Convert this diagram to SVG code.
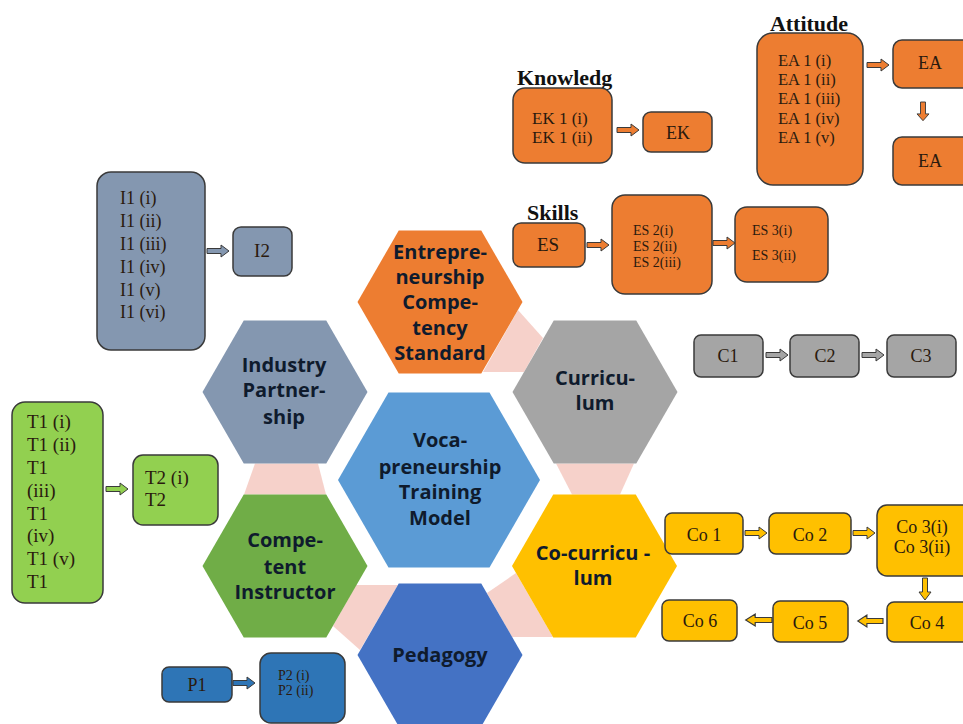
<svg xmlns="http://www.w3.org/2000/svg" width="963" height="724" viewBox="0 0 963 724">
<defs>
<style>
.hex{stroke:none}
.ht{font-family:"Open Sans","Liberation Sans",sans-serif;font-weight:bold;font-size:20px;fill:#0f1b2d;text-anchor:middle}
.bx{stroke:#3a3a3a;stroke-width:1.5}
.t{font-family:"Liberation Serif","Times New Roman",serif;fill:#2a1a0e}
.ttl{font-family:"Liberation Serif","Times New Roman",serif;font-weight:bold;font-size:22px;fill:#111}
.mid{text-anchor:middle}
.link{fill:#f4c9c1;opacity:0.85}
.or{fill:#ED7D31}
.gy{fill:#8497B0}
.gr{fill:#92D050}
.yl{fill:#FFC000}
.bl{fill:#2E75B6}
.gc{fill:#A5A5A5}
</style>
<path id="arr" d="M0,-2.5 H14 V-6 L22,0 L14,6 V2.5 H0 Z" stroke="#3a3a3a" stroke-width="1"/>
</defs>
<rect width="963" height="724" fill="#ffffff"/>

<g id="links">
<polygon class="link" points="518,310 543,338 524,372 483,372"/>
<polygon class="link" points="255,463.5 318,463.5 326,494.5 244,494.5"/>
<polygon class="link" points="556,463.5 634,463.5 620,494.5 572,494.5"/>
<polygon class="link" points="356,585 398,585 360,650 333,626"/>
<polygon class="link" points="516,573 487,593 512,637 553,637"/>
</g>

<g id="hex-entrepreneurship">
<polygon class="hex" fill="#ED7D31" points="357.5,302 398.75,230.5 481.25,230.5 522.5,302 481.25,373.5 398.75,373.5"/>
<text class="ht" x="440" y="259">Entrepre-</text>
<text class="ht" x="440" y="284">neurship</text>
<text class="ht" x="440" y="309">Compe-</text>
<text class="ht" x="440" y="335">tency</text>
<text class="ht" x="440" y="360">Standard</text>
</g>
<g id="hex-industry">
<polygon class="hex" fill="#8497B0" points="202.5,392 243.75,320.5 326.25,320.5 367.5,392 326.25,463.5 243.75,463.5"/>
<text class="ht" x="284" y="372">Industry</text>
<text class="ht" x="284" y="397">Partner-</text>
<text class="ht" x="284" y="424">ship</text>
</g>
<g id="hex-curriculum">
<polygon class="hex" fill="#A5A5A5" points="512.5,392 553.75,320.5 636.25,320.5 677.5,392 636.25,463.5 553.75,463.5"/>
<text class="ht" x="595" y="385">Curricu-</text>
<text class="ht" x="595" y="410">lum</text>
</g>
<g id="hex-center">
<polygon class="hex" fill="#5B9BD5" points="338,480 388.5,392.5 489.5,392.5 540,480 489.5,567.5 388.5,567.5"/>
<text class="ht" x="440" y="447">Voca-</text>
<text class="ht" x="440" y="474">preneurship</text>
<text class="ht" x="440" y="499">Training</text>
<text class="ht" x="440" y="525">Model</text>
</g>
<g id="hex-competent">
<polygon class="hex" fill="#70AD47" points="202.5,566 243.75,494.5 326.25,494.5 367.5,566 326.25,637.5 243.75,637.5"/>
<text class="ht" x="285" y="547">Compe-</text>
<text class="ht" x="285" y="574">tent</text>
<text class="ht" x="285" y="599">Instructor</text>
</g>
<g id="hex-cocurriculum">
<polygon class="hex" fill="#FFC000" points="512,566 553.25,494.5 635.75,494.5 677,566 635.75,637.5 553.25,637.5"/>
<text class="ht" x="593" y="560">Co-curricu -</text>
<text class="ht" x="593" y="585">lum</text>
</g>
<g id="hex-pedagogy">
<polygon class="hex" fill="#4472C4" points="357.5,655 398.75,583.5 481.25,583.5 522.5,655 481.25,726.5 398.75,726.5"/>
<text class="ht" x="440" y="662">Pedagogy</text>
</g>

<g id="attitude">
<text class="ttl mid" x="809" y="31">Attitude</text>
<rect class="bx or" x="757" y="33" width="106" height="152" rx="16"/>
<text class="t" font-size="16.5" x="778" y="66">EA 1 (i)</text>
<text class="t" font-size="16.5" x="778" y="85">EA 1 (ii)</text>
<text class="t" font-size="16.5" x="778" y="104">EA 1 (iii)</text>
<text class="t" font-size="16.5" x="778" y="124">EA 1 (iv)</text>
<text class="t" font-size="16.5" x="778" y="143">EA 1 (v)</text>
</g>
<g id="ea1"><rect class="bx or" x="893" y="40" width="85" height="48" rx="9"/><text class="t mid" font-size="18" x="930" y="69">EA</text></g>
<g id="ea2"><rect class="bx or" x="893" y="137" width="85" height="48" rx="9"/><text class="t mid" font-size="18" x="930" y="167">EA</text></g>

<g id="knowledge">
<text class="ttl" x="517" y="85">Knowledg</text>
<rect class="bx or" x="513" y="88" width="99" height="75" rx="12"/>
<text class="t" font-size="17" x="532" y="124">EK 1 (i)</text>
<text class="t" font-size="17" x="532" y="143">EK 1 (ii)</text>
</g>
<g id="ek"><rect class="bx or" x="643" y="112" width="69" height="40" rx="8"/><text class="t mid" font-size="18" x="678" y="139">EK</text></g>

<g id="skills">
<text class="ttl" x="527" y="220">Skills</text>
<rect class="bx or" x="513" y="223" width="72" height="44" rx="8"/>
<text class="t mid" font-size="19" x="548" y="251">ES</text>
</g>
<g id="es2"><rect class="bx or" x="612" y="195" width="100" height="99" rx="13"/>
<text class="t" font-size="14" x="633" y="235">ES 2(i)</text>
<text class="t" font-size="14" x="633" y="251">ES 2(ii)</text>
<text class="t" font-size="14" x="633" y="267">ES 2(iii)</text></g>
<g id="es3"><rect class="bx or" x="735" y="207" width="93" height="75" rx="12"/>
<text class="t" font-size="14" x="752" y="235">ES 3(i)</text>
<text class="t" font-size="14" x="752" y="260">ES 3(ii)</text></g>

<g id="i1"><rect class="bx gy" x="97" y="172" width="108" height="178" rx="14"/>
<text class="t" font-size="18" fill="#1e2a3a" x="120" y="204">I1 (i)</text>
<text class="t" font-size="18" x="120" y="227">I1 (ii)</text>
<text class="t" font-size="18" x="120" y="250">I1 (iii)</text>
<text class="t" font-size="18" x="120" y="273">I1 (iv)</text>
<text class="t" font-size="18" x="120" y="296">I1 (v)</text>
<text class="t" font-size="18" x="120" y="318">I1 (vi)</text></g>
<g id="i2"><rect class="bx gy" x="233" y="227" width="59" height="49" rx="8"/><text class="t mid" font-size="19" x="262" y="257">I2</text></g>

<g id="t1"><rect class="bx gr" x="12" y="402" width="91" height="201" rx="13"/>
<text class="t" font-size="19" x="27" y="428">T1 (i)</text>
<text class="t" font-size="19" x="27" y="451">T1 (ii)</text>
<text class="t" font-size="19" x="27" y="474">T1</text>
<text class="t" font-size="19" x="27" y="497">(iii)</text>
<text class="t" font-size="19" x="27" y="520">T1</text>
<text class="t" font-size="19" x="27" y="542">(iv)</text>
<text class="t" font-size="19" x="27" y="565">T1 (v)</text>
<text class="t" font-size="19" x="27" y="588">T1</text></g>
<g id="t2"><rect class="bx gr" x="133" y="455" width="85" height="70" rx="10"/>
<text class="t" font-size="19" x="145" y="484">T2 (i)</text>
<text class="t" font-size="19" x="145" y="506">T2</text></g>

<g id="c1"><rect class="bx gc" x="694" y="335" width="69" height="42" rx="7"/><text class="t mid" font-size="18" x="728" y="362">C1</text></g>
<g id="c2"><rect class="bx gc" x="790" y="335" width="69" height="42" rx="7"/><text class="t mid" font-size="18" x="825" y="362">C2</text></g>
<g id="c3"><rect class="bx gc" x="887" y="335" width="69" height="42" rx="7"/><text class="t mid" font-size="18" x="921" y="362">C3</text></g>

<g id="co1"><rect class="bx yl" x="665" y="513" width="78" height="41" rx="7"/><text class="t mid" font-size="18" x="704" y="541">Co 1</text></g>
<g id="co2"><rect class="bx yl" x="769" y="513" width="82" height="41" rx="7"/><text class="t mid" font-size="18" x="810" y="541">Co 2</text></g>
<g id="co3"><rect class="bx yl" x="877" y="505" width="100" height="71" rx="10"/>
<text class="t mid" font-size="18" x="922" y="533">Co 3(i)</text>
<text class="t mid" font-size="18" x="922" y="553">Co 3(ii)</text></g>
<g id="co4"><rect class="bx yl" x="887" y="602" width="90" height="40" rx="7"/><text class="t mid" font-size="18" x="927" y="629">Co 4</text></g>
<g id="co5"><rect class="bx yl" x="773" y="601" width="75" height="41" rx="7"/><text class="t mid" font-size="18" x="810" y="629">Co 5</text></g>
<g id="co6"><rect class="bx yl" x="662" y="600" width="75" height="41" rx="7"/><text class="t mid" font-size="18" x="700" y="627">Co 6</text></g>

<g id="p1"><rect class="bx bl" x="162" y="667" width="70" height="35" rx="7"/><text class="t mid" font-size="18" fill="#0d1a3a" x="197" y="691">P1</text></g>
<g id="p2"><rect class="bx bl" x="260" y="653" width="85" height="70" rx="11"/>
<text class="t" font-size="14" fill="#0d1a3a" x="278" y="680">P2 (i)</text>
<text class="t" font-size="14" fill="#0d1a3a" x="278" y="695">P2 (ii)</text></g>

<g id="connectors">
<use href="#arr" fill="#ED7D31" transform="translate(867,65)"/>
<use href="#arr" fill="#ED7D31" transform="translate(923,102) rotate(90) scale(0.85,1)"/>
<use href="#arr" fill="#ED7D31" transform="translate(617,130)"/>
<use href="#arr" fill="#ED7D31" transform="translate(587,245)"/>
<use href="#arr" fill="#ED7D31" transform="translate(713,243)"/>
<use href="#arr" fill="#8497B0" transform="translate(207,251)"/>
<use href="#arr" fill="#92D050" transform="translate(106,489)"/>
<use href="#arr" fill="#A5A5A5" transform="translate(766,355)"/>
<use href="#arr" fill="#A5A5A5" transform="translate(862,355)"/>
<use href="#arr" fill="#FFC000" transform="translate(745,533)"/>
<use href="#arr" fill="#FFC000" transform="translate(853,533)"/>
<use href="#arr" fill="#FFC000" transform="translate(925,578) rotate(90)"/>
<use href="#arr" fill="#FFC000" transform="translate(883,621) rotate(180) scale(1.15,1)"/>
<use href="#arr" fill="#FFC000" transform="translate(772,620) rotate(180) scale(1.2,1)"/>
<use href="#arr" fill="#2E75B6" transform="translate(233,683)"/>
</g>
</svg>
